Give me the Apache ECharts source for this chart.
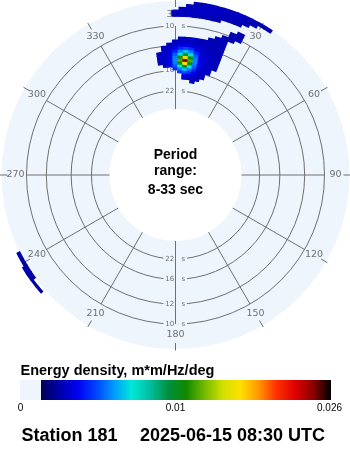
<!DOCTYPE html>
<html><head><meta charset="utf-8">
<script src="https://cdn.jsdelivr.net/npm/echarts@6/dist/echarts.min.js"></script>
<style>html,body{margin:0;padding:0;background:#fff}#c{width:350px;height:450px}</style>
</head><body><div id="c"></div>
<script>
// ---------------- data ----------------
const stationName = 'Station 181';
const timestamp = '2025-06-15 08:30 UTC';
const periodLongest = 33;   // s  (inner edge)
const periodShortest = 8;   // s  (outer edge)
const ringPeriods = [22, 16, 12, 10];
const angleTicks = [0, 30, 60, 90, 120, 150, 180, 210, 240, 270, 300, 330];
const angleLabels = ['360', '30', '60', '90', '120', '150', '180', '210', '240', '270', '300', '330'];

// energy density cells: one row per frequency band (Hz, band centre),
// direction of first cell (deg, cell centre), then values every dirStep degrees
const dirStep = 2.5;
const freqStep = 0.0025;
const rowFreq = [0.0545, 0.057, 0.0595, 0.062, 0.0645, 0.067, 0.0695, 0.072, 0.0745, 0.077,
  0.0795, 0.082, 0.0845, 0.087, 0.0895, 0.092, 0.0945, 0.097, 0.0995, 0.102,
  0.1045, 0.107, 0.1095, 0.112, 0.1145, 0.117, 0.1195, 0.122, 0.1245];
const rowDirStart = [10, 5, 5, 2.5, 0, -5, -7.5, -7.5, -7.5, -7.5,
  -5, -5, -2.5, 0, 2.5, 15, 17.5, 20, 22.5, 22.5,
  25, 0, 0, 0, 2.5, 5, 7.5, 235, 230];
const rowEnergy = [
  [0.0016],
  [0.0020, 0.0019, 0.0018, 0.0017],
  [0.0026, 0.0023, 0.0020, 0.0018, 0.0017],
  [0.0036, 0.0042, 0.0036, 0.0026, 0.0020, 0.0018],
  [0.0034, 0.0050, 0.0062, 0.0050, 0.0034, 0.0021, 0.0019, 0.0018],
  [0.0019, 0.0023, 0.0044, 0.0068, 0.0100, 0.0068, 0.0044, 0.0023, 0.0019, 0.0018],
  [0.0018, 0.0020, 0.0025, 0.0050, 0.0105, 0.0165, 0.0105, 0.0050, 0.0025, 0.0020, 0.0018, 0.0017],
  [0.0018, 0.0020, 0.0026, 0.0052, 0.0125, 0.0240, 0.0125, 0.0052, 0.0026, 0.0020, 0.0018, 0.0017],
  [0.0018, 0.0020, 0.0025, 0.0050, 0.0105, 0.0160, 0.0105, 0.0050, 0.0025, 0.0020, 0.0018, 0.0017],
  [0.0018, 0.0019, 0.0023, 0.0044, 0.0068, 0.0100, 0.0068, 0.0044, 0.0023, 0.0019, 0.0018, 0.0017],
  [0.0019, 0.0021, 0.0034, 0.0050, 0.0062, 0.0050, 0.0034, 0.0021, 0.0019, 0.0018, 0.0017],
  [0.0018, 0.0020, 0.0026, 0.0036, 0.0042, 0.0036, 0.0026, 0.0020, 0.0018, 0.0017, 0.0017],
  [0.0018, 0.0020, 0.0023, 0.0026, 0.0023, 0.0020, 0.0018, 0.0017, 0.0017, 0.0016],
  [0.0018, 0.0019, 0.0020, 0.0019, 0.0018, 0.0017, 0.0017, 0.0016, 0.0016],
  [0.0017, 0.0018, 0.0018, 0.0017, 0.0017, 0.0016, 0.0016, 0.0016],
  [0.0016, 0.0016, 0.0016],
  [0.0016, 0.0016],
  [0.0016, 0.0016],
  [0.0016, 0.0015],
  [0.0015, 0.0015],
  [0.0015],
  [],
  [0.0016, 0.0017, 0.0017, 0.0017, 0.0016, 0.0016, 0.0015],
  [0.0016, 0.0018, 0.0018, 0.0018, 0.0018, 0.0017, 0.0017, 0.0016, 0.0016, 0.0015],
  [0.0017, 0.0018, 0.0019, 0.0019, 0.0018, 0.0018, 0.0017, 0.0017, 0.0016, 0.0015],
  [0.0017, 0.0018, 0.0019, 0.0019, 0.0018, 0.0018, 0.0017, 0.0017, 0.0016, 0.0015],
  [0.0016, 0.0017, 0.0018, 0.0018, 0.0017, 0.0017, 0.0017, 0.0016, 0.0016, 0.0015, 0.0015],
  [0.0014, 0.0014, 0.0014, 0.0013],
  [0.0013, 0.0014, 0.0014, 0.0014]
];

// colour bar
const cbarTitle = 'Energy density, m*m/Hz/deg';
const cbarTickValues = [0, 0.01, 0.026];
const cbarTickLabels = ['0', '0.01', '0.026'];
const cbarColors = ['#000058', '#0000a8', '#0000f0', '#0040ff', '#0098ff', '#00e8d8', '#00c0a0',
  '#009040', '#108800', '#70b800', '#d0e000', '#ffe000', '#ff9800', '#ff3000', '#e00000',
  '#900000', '#000000'];

// ---------------- layout / style ----------------
const W = 350, H = 450;
const CX = 175.5, CY = 175;
const R_IN = 66, R_OUT = 178.8, R_DISK = 174;
const GRID = '#707070';
const DISK = '#eef5fd';
const SANS = '"Liberation Sans", Arial, sans-serif';
const DEJ = '"DejaVu Sans", Verdana, sans-serif';
const fMin = 1 / periodLongest, fMax = 1 / periodShortest;
const cbarTickFrac = [0, 0.462, 1];   // where the tick values sit on the coloured strip
const BAR_X0 = 41, BAR_X1 = 331, BAR_Y = 380, BAR_H = 20, SW_X0 = 20;

function fracOf(v) {
  for (let i = 1; i < cbarTickValues.length; i++) {
    if (v <= cbarTickValues[i]) {
      const a = cbarTickValues[i - 1], b = cbarTickValues[i];
      return cbarTickFrac[i - 1] + (v - a) / (b - a) * (cbarTickFrac[i] - cbarTickFrac[i - 1]);
    }
  }
  return 1;
}
function colorOf(v) { return echarts.color.lerp(Math.max(0, Math.min(1, fracOf(v))), cbarColors); }
function normDir(d) { return ((d % 360) + 360) % 360; }

const cells = [];
rowFreq.forEach((f, i) => rowEnergy[i].forEach((v, k) => cells.push([f, rowDirStart[i] + k * dirStep, v])));

const chart = echarts.init(document.getElementById('c'), null, { renderer: 'canvas', width: W, height: H });

const hiddenAxis = { axisLine: { show: false }, axisTick: { show: false }, axisLabel: { show: false }, splitLine: { show: false }, splitArea: { show: false } };

function radiusOf(api, cs, f) { const p = api.coord([f, 0]); return Math.hypot(p[0] - cs.cx, p[1] - cs.cy); }

const option = {
  animation: false,
  backgroundColor: '#ffffff',
  polar: { center: [CX, CY], radius: [R_IN, R_OUT] },
  angleAxis: Object.assign({ type: 'value', min: 0, max: 360, startAngle: 90, clockwise: true }, hiddenAxis),
  radiusAxis: Object.assign({ type: 'value', min: fMin, max: fMax }, hiddenAxis),
  series: [
    { // disk
      type: 'custom', coordinateSystem: 'polar', z: 1, silent: true,
      data: [[fMin, 0]],
      renderItem(params, api) {
        const cs = params.coordSys;
        return { type: 'sector', shape: { cx: cs.cx, cy: cs.cy, r0: cs.r0, r: R_DISK, startAngle: 0, endAngle: Math.PI * 2 }, style: { fill: DISK } };
      }
    },
    { // period rings + labels
      type: 'custom', coordinateSystem: 'polar', z: 2, silent: true,
      data: ringPeriods.map(p => [1 / p, 0, p]),
      renderItem(params, api) {
        const cs = params.coordSys;
        const r = radiusOf(api, cs, api.value(0));
        const p = api.value(2);
        const ch = [{ type: 'circle', z2: 0, shape: { cx: cs.cx, cy: cs.cy, r: r }, style: { fill: 'none', stroke: GRID, lineWidth: 1 } }];
        [cs.cy - r, cs.cy + r].forEach(y => {
          ch.push({ type: 'rect', z2: 1, shape: { x: cs.cx - 12, y: y - 4, width: 23.5, height: 8 }, style: { fill: DISK } });
          ch.push({ type: 'text', z2: 2, style: { text: String(p), x: cs.cx - 1.3, y: y, align: 'right', verticalAlign: 'middle', font: '7px ' + DEJ, fill: GRID } });
          ch.push({ type: 'text', z2: 2, style: { text: 's', x: cs.cx + 6, y: y, align: 'left', verticalAlign: 'middle', font: '7px ' + DEJ, fill: GRID } });
        });
        return { type: 'group', children: ch };
      }
    },
    { // direction spokes, ticks, labels
      type: 'custom', coordinateSystem: 'polar', z: 3, silent: true,
      data: angleTicks.map((a, i) => [fMin, a, i]),
      renderItem(params, api) {
        const cs = params.coordSys;
        const a = api.value(1), i = api.value(2);
        const p0 = api.coord([fMin, a]);
        const p1 = api.coord([1 / Math.min.apply(null, ringPeriods), a]);
        const dx = p1[0] - cs.cx, dy = p1[1] - cs.cy, L = Math.hypot(dx, dy);
        const ux = dx / L, uy = dy / L;
        return { type: 'group', children: [
          { type: 'line', shape: { x1: p0[0], y1: p0[1], x2: p1[0], y2: p1[1] }, style: { stroke: GRID, lineWidth: 1 } },
          { type: 'line', shape: { x1: cs.cx + ux * 168, y1: cs.cy + uy * 168, x2: cs.cx + ux * 175.5, y2: cs.cy + uy * 175.5 }, style: { stroke: GRID, lineWidth: 1 } },
          { type: 'text', style: { text: angleLabels[i], x: cs.cx + ux * 160, y: cs.cy + uy * 160, align: 'center', verticalAlign: 'middle', font: '9.5px ' + DEJ, fill: GRID } }
        ] };
      }
    },
    { // energy density cells
      type: 'custom', coordinateSystem: 'polar', z: 10, silent: true,
      data: cells,
      renderItem(params, api) {
        const cs = params.coordSys;
        const f = api.value(0), d = api.value(1), v = api.value(2);
        const r0 = radiusOf(api, cs, Math.max(fMin, f - freqStep / 2));
        const r1 = radiusOf(api, cs, Math.min(fMax, f + freqStep / 2));
        const q0 = api.coord([f, normDir(d - dirStep / 2)]);
        const q1 = api.coord([f, normDir(d + dirStep / 2)]);
        let a0 = Math.atan2(q0[1] - cs.cy, q0[0] - cs.cx);
        let a1 = Math.atan2(q1[1] - cs.cy, q1[0] - cs.cx);
        if (a1 < a0) a1 += Math.PI * 2;
        const c = colorOf(v);
        return { type: 'sector', shape: { cx: cs.cx, cy: cs.cy, r0: r0, r: r1, startAngle: a0, endAngle: a1, clockwise: true }, style: { fill: c, stroke: c, lineWidth: 1.2 } };
      }
    }
  ],
  graphic: [
    { type: 'text', z: 20, x: CX, y: 155.5, style: { text: 'Period', font: 'bold 14px ' + SANS, fill: '#000', align: 'center', verticalAlign: 'middle' } },
    { type: 'text', z: 20, x: CX, y: 171.5, style: { text: 'range:', font: 'bold 14px ' + SANS, fill: '#000', align: 'center', verticalAlign: 'middle' } },
    { type: 'text', z: 20, x: CX, y: 190.5, style: { text: periodShortest + '-' + periodLongest + ' sec', font: 'bold 14px ' + SANS, fill: '#000', align: 'center', verticalAlign: 'middle' } },
    { type: 'text', z: 20, x: 20.5, y: 371, style: { text: cbarTitle, font: 'bold 14.5px ' + SANS, fill: '#000', align: 'left', verticalAlign: 'middle' } },
    { type: 'rect', z: 20, shape: { x: SW_X0, y: BAR_Y, width: BAR_X0 - SW_X0, height: BAR_H }, style: { fill: DISK } },
    { type: 'rect', z: 20, shape: { x: BAR_X0, y: BAR_Y, width: BAR_X1 - BAR_X0, height: BAR_H },
      style: { fill: { type: 'linear', x: 0, y: 0, x2: 1, y2: 0, colorStops: cbarColors.map((c, i) => ({ offset: i / (cbarColors.length - 1), color: c })) } } },
    { type: 'text', z: 20, x: 20.5, y: 408, style: { text: cbarTickLabels[0], font: '10px ' + SANS, fill: '#000', align: 'center', verticalAlign: 'middle' } },
    { type: 'text', z: 20, x: 175.5, y: 408, style: { text: cbarTickLabels[1], font: '10px ' + SANS, fill: '#000', align: 'center', verticalAlign: 'middle' } },
    { type: 'text', z: 20, x: 342, y: 408, style: { text: cbarTickLabels[2], font: '10px ' + SANS, fill: '#000', align: 'right', verticalAlign: 'middle' } },
    { type: 'text', z: 20, x: 21.5, y: 436, style: { text: stationName, font: 'bold 18px ' + SANS, fill: '#000', align: 'left', verticalAlign: 'middle' } },
    { type: 'text', z: 20, x: 140, y: 436, style: { text: timestamp, font: 'bold 18px ' + SANS, fill: '#000', align: 'left', verticalAlign: 'middle' } }
  ]
};
chart.setOption(option);
</script>
</body></html>
